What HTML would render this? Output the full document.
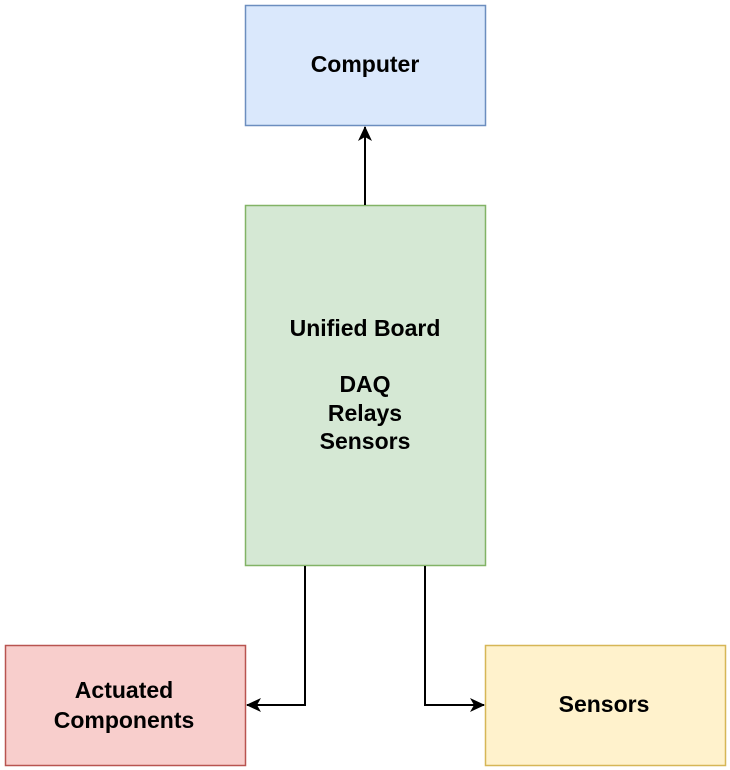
<!DOCTYPE html>
<html><head><style>
body{margin:0;width:730px;height:770px;background:#fff;overflow:hidden}
svg{display:block}
text{font-family:"Liberation Sans",Arial,sans-serif;font-weight:bold;font-size:23px;fill:#000;text-anchor:middle;dominant-baseline:central}
</style></head><body>
<svg width="730" height="770" viewBox="0 0 730 770">
<defs><marker id="a" markerWidth="16" markerHeight="14" refX="14" refY="7" orient="auto" markerUnits="userSpaceOnUse"><path d="M0,0 L15,7 L0,14 L4,7 Z" fill="#000"/></marker></defs>
<rect x="245.5" y="5.5" width="240" height="120" fill="#dae8fc" stroke="#6c8ebf" stroke-width="1.5"/>
<text x="365" y="64">Computer</text>
<rect x="245.5" y="205.5" width="240" height="360" fill="#d5e8d4" stroke="#82b366" stroke-width="1.5"/>
<text x="365" y="328">Unified Board</text>
<text x="365" y="384">DAQ</text>
<text x="365" y="413">Relays</text>
<text x="365" y="441">Sensors</text>
<rect x="5.5" y="645.5" width="240" height="120" fill="#f8cecc" stroke="#b85450" stroke-width="1.5"/>
<text x="124" y="690">Actuated</text>
<text x="124" y="720">Components</text>
<rect x="485.5" y="645.5" width="240" height="120" fill="#fff2cc" stroke="#d6b656" stroke-width="1.5"/>
<text x="604" y="704">Sensors</text>
<path d="M365,205 L365,127" stroke="#000" stroke-width="2" fill="none" marker-end="url(#a)"/>
<path d="M305,566 L305,705 L247,705" stroke="#000" stroke-width="2" fill="none" marker-end="url(#a)"/>
<path d="M425,566 L425,705 L484,705" stroke="#000" stroke-width="2" fill="none" marker-end="url(#a)"/>
</svg>
</body></html>
